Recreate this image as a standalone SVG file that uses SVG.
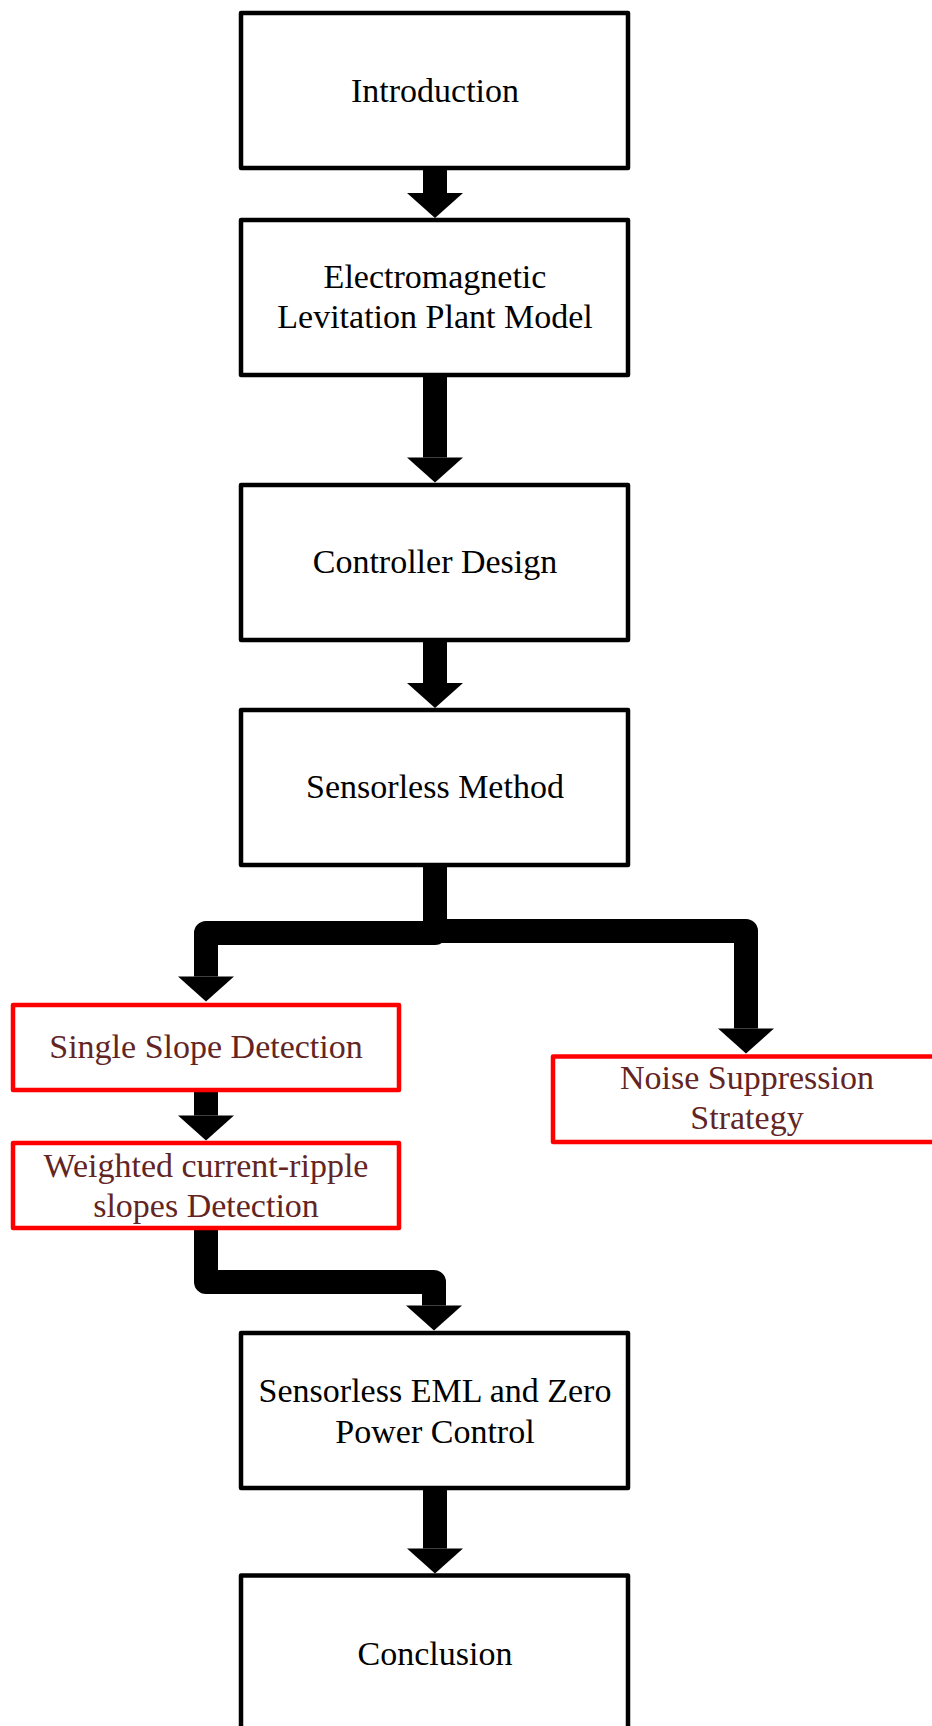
<svg xmlns="http://www.w3.org/2000/svg" width="932" height="1726" viewBox="0 0 932 1726">
  <style>
    .box { fill: #ffffff; stroke: #000000; stroke-width: 4.5; stroke-linejoin: round; }
    .rbox { fill: #ffffff; stroke: #ff0000; stroke-width: 4.5; stroke-linejoin: round; }
    .t { font-family: "Liberation Serif", "Times New Roman", serif; font-size: 34px; fill: #000000; text-anchor: middle; }
    .rt { font-family: "Liberation Serif", "Times New Roman", serif; font-size: 34px; fill: #632523; text-anchor: middle; }
    .conn { fill: none; stroke: #000000; stroke-width: 24; stroke-linejoin: round; stroke-linecap: butt; marker-end: url(#ah); }
  </style>
  <defs>
    <marker id="ah" markerUnits="userSpaceOnUse" markerWidth="26" markerHeight="56" refX="0" refY="28" orient="auto" overflow="visible">
      <path d="M0,0 L25,28 L0,56 Z" fill="#000000"/>
    </marker>
  </defs>
  <rect width="932" height="1726" fill="#ffffff"/>

  <g id="connectors">
    <path class="conn" d="M435,168 V193"/>
    <path class="conn" d="M435,375 V457.5"/>
    <path class="conn" d="M435,640 V683"/>
    <path class="conn" d="M435,865 V933 H206 V976.5"/>
    <path class="conn" d="M435,931 H746 V1028.5"/>
    <path class="conn" d="M206,1090 V1115.5"/>
    <path class="conn" d="M206,1228 V1282 H434 V1305.5"/>
    <path class="conn" d="M435,1488 V1548.5"/>
  </g>

  <g id="introduction">
    <rect class="box" x="241" y="13" width="387" height="155"/>
    <text class="t" x="435" y="102">Introduction</text>
  </g>
  <g id="plant-model">
    <rect class="box" x="241" y="220" width="387" height="155"/>
    <text class="t" x="435" y="288">Electromagnetic</text>
    <text class="t" x="435" y="328">Levitation Plant Model</text>
  </g>
  <g id="controller-design">
    <rect class="box" x="241" y="485" width="387" height="155"/>
    <text class="t" x="435" y="573">Controller Design</text>
  </g>
  <g id="sensorless-method">
    <rect class="box" x="241" y="710" width="387" height="155"/>
    <text class="t" x="435" y="798">Sensorless Method</text>
  </g>
  <g id="single-slope">
    <rect class="rbox" x="13" y="1005" width="386" height="85"/>
    <text class="rt" x="206" y="1058">Single Slope Detection</text>
  </g>
  <g id="noise-suppression">
    <rect class="rbox" x="553" y="1056.5" width="388" height="85.5"/>
    <text class="rt" x="747" y="1089">Noise Suppression</text>
    <text class="rt" x="747" y="1129">Strategy</text>
  </g>
  <g id="weighted-slopes">
    <rect class="rbox" x="13" y="1143" width="386" height="85"/>
    <text class="rt" x="206" y="1177">Weighted current-ripple</text>
    <text class="rt" x="206" y="1217">slopes Detection</text>
  </g>
  <g id="sensorless-eml">
    <rect class="box" x="241" y="1333" width="387" height="155"/>
    <text class="t" x="435" y="1402">Sensorless EML and Zero</text>
    <text class="t" x="435" y="1443">Power Control</text>
  </g>
  <g id="conclusion">
    <rect class="box" x="241" y="1575.5" width="387" height="155"/>
    <text class="t" x="435" y="1665">Conclusion</text>
  </g>
</svg>
